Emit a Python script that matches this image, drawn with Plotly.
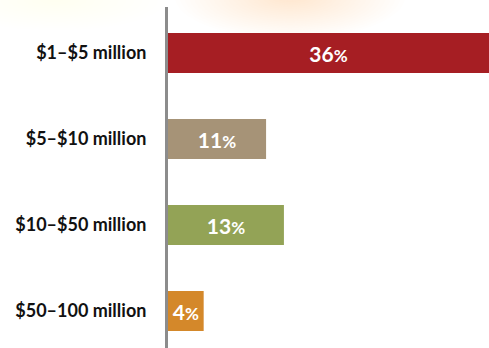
import plotly.graph_objects as go

# Share of respondents by revenue band
categories = ["$1–$5 million", "$5–$10 million", "$10–$50 million", "$50–100 million"]
shares = [36, 11, 13, 4]
bar_colors = ["#A61E23", "#A69377", "#93A356", "#D4882A"]

labels = [f"{v}<span style='font-size:17px'>%</span>" for v in shares]

fig = go.Figure(
    go.Bar(
        x=shares,
        y=categories,
        orientation="h",
        marker=dict(color=bar_colors, line=dict(width=0)),
        width=0.465,
        text=labels,
        texttemplate="%{text}",
        textposition="inside",
        insidetextanchor="middle",
        textangle=0,
        insidetextfont=dict(family="Lato", size=21, color="white", weight="bold"),
        hoverinfo="skip",
    )
)

# Soft warm glow along the top edge, built from stacked faint ellipses
def glow(cx, cy, rx, ry, steps, alpha):
    for i in range(steps):
        f = 1 - i / steps
        fig.add_shape(
            type="circle",
            xref="paper", yref="paper",
            xsizemode="pixel", ysizemode="pixel",
            xanchor=cx, yanchor=cy,
            x0=-rx * f, x1=rx * f, y0=-ry * f, y1=ry * f,
            fillcolor=f"rgba(252,220,155,{alpha})",
            line=dict(width=0),
            layer="below",
        )

glow(0.38, 1.03, 115, 42, 24, 0.025)
glow(-0.35, 1.02, 110, 30, 14, 0.012)

fig.update_layout(
    width=489,
    height=348,
    margin=dict(l=168, r=0, t=7, b=0),
    paper_bgcolor="white",
    plot_bgcolor="rgba(0,0,0,0)",
    showlegend=False,
    uniformtext=dict(minsize=21, mode="show"),
    xaxis=dict(
        range=[0, 36],
        visible=False,
        showgrid=False,
        zeroline=False,
    ),
    yaxis=dict(
        categoryorder="array",
        categoryarray=categories,
        range=[3.43, -0.535],
        showgrid=False,
        zeroline=False,
        showline=True,
        linecolor="#8C8C8C",
        linewidth=3,
        ticks="",
        ticklabelstandoff=15,
        tickfont=dict(family="Lato", size=18, color="#111111", weight="bold"),
    ),
)

fig.write_html("out.html")
